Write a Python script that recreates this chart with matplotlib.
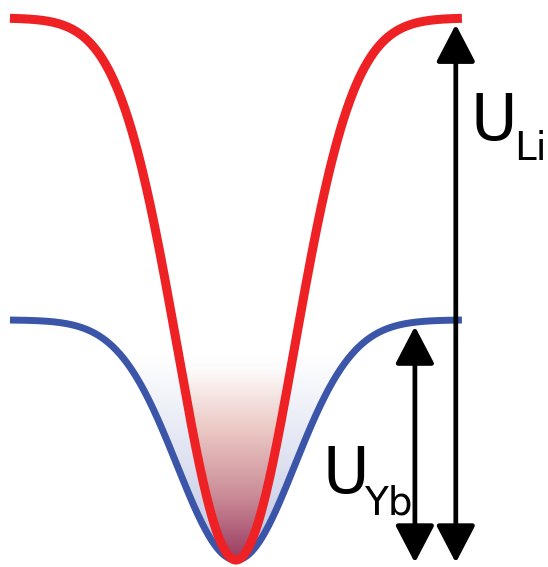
import numpy as np
import matplotlib
matplotlib.use('Agg')
import matplotlib.pyplot as plt
from matplotlib.colors import LinearSegmentedColormap
from matplotlib.patches import Polygon, FancyArrowPatch

# Trap depths, normalised to the Li depth, and the shared beam waist
U_LI = 1.0
U_YB = 0.443
WAIST = 0.52
SYMBOL = 'U'
SPECIES = ['Li', 'Yb']

RED = '#ee2124'
BLUE = '#3b55a9'

x = np.linspace(-1.0, 1.0, 800)
profile = np.exp(-2 * x**2 / WAIST**2)
u_li = -U_LI * profile
u_yb = -U_LI + U_YB * (1 - profile)   # shallower well, drawn with the same bottom

fig = plt.figure(figsize=(5.48, 5.67), dpi=100, facecolor='white')
ax = fig.add_axes([0, 0, 1, 1])
ax.set_xlim(-1.044, 1.381)
ax.set_ylim(-1.0129, 0.0332)
ax.axis('off')


def gradient_fill(curve, top, colors, z):
    sel = curve <= top
    poly = Polygon(np.column_stack([x[sel], curve[sel]]), closed=True,
                   facecolor='none', edgecolor='none', transform=ax.transData)
    ax.add_patch(poly)
    cmap = LinearSegmentedColormap.from_list('g', colors)
    grad = np.linspace(1, 0, 256).reshape(-1, 1)
    im = ax.imshow(grad, cmap=cmap, origin='lower', aspect='auto',
                   extent=[x[sel].min(), x[sel].max(), -U_LI, top],
                   zorder=z, interpolation='bilinear')
    im.set_clip_path(poly)


# pale glow inside the Yb well, coloured cloud inside the Li well
gradient_fill(u_yb, -0.62, ['#ffffff', '#dfe3f1', '#bcc3e2'], 1)
gradient_fill(u_li, -0.64, ['#ffffff', '#ebc8c4', '#cb8d98', '#9a3a60'], 2)

ax.plot(x, u_yb, color=BLUE, lw=5.0, solid_capstyle='butt', zorder=3)
ax.plot(x, u_li, color=RED, lw=6.5, solid_capstyle='butt', zorder=4)

# depth arrows
arrows = [(0.973, -U_LI, 0.0), (0.792, -U_LI, -U_LI + U_YB)]
for xa, y0, y1 in arrows:
    ax.add_patch(FancyArrowPatch((xa, y0 - 0.005), (xa, y1 - 0.012),
                                 arrowstyle='<|-|>,head_length=1.15,head_width=0.6',
                                 mutation_scale=20, color='black', lw=3.4,
                                 shrinkA=0, shrinkB=0, zorder=5))

# labels: symbol plus a smaller, lowered species subscript
label_pos = [(1.036, -0.225, 1.232, -0.262), (0.385, -0.876, 0.566, -0.916)]
for name, (xs, ys, xsub, ysub) in zip(SPECIES, label_pos):
    ax.text(xs, ys, SYMBOL, fontsize=46, ha='left', va='baseline', zorder=6)
    ax.text(xsub, ysub, name, fontsize=28, ha='left', va='baseline', zorder=6)

fig.savefig('out.png', dpi=100, facecolor='white')
